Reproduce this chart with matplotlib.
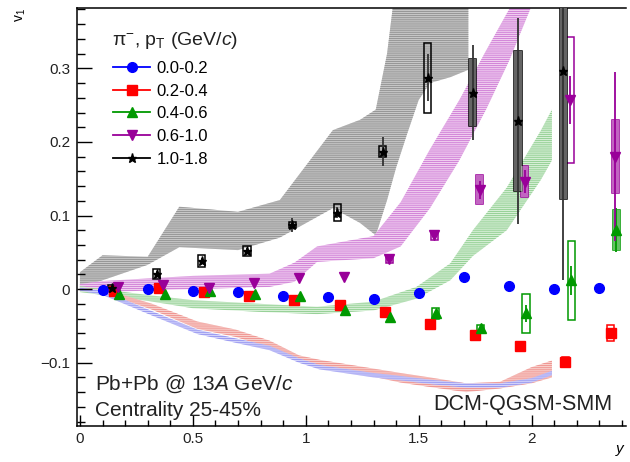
import numpy as np
import matplotlib
matplotlib.use("Agg")
import matplotlib.pyplot as plt
from matplotlib.patches import Rectangle
from matplotlib.lines import Line2D

plt.rcParams['font.family'] = ['Liberation Sans', 'DejaVu Sans']
plt.rcParams['mathtext.fontset'] = 'custom'
plt.rcParams['mathtext.rm'] = 'Liberation Sans'
plt.rcParams['mathtext.it'] = 'Liberation Sans:italic'
plt.rcParams['hatch.linewidth'] = 0.6

# ---------------- data points (pi-, v1 vs y) ----------------
labels = ["0.0-0.2", "0.2-0.4", "0.4-0.6", "0.6-1.0", "1.0-1.8"]
colors = ["#0000ff", "#ff0000", "#009900", "#990099", "#000000"]
markers = ["o", "s", "^", "v", "*"]

x_blue = [0.10, 0.30, 0.50, 0.70, 0.90, 1.10, 1.30, 1.50, 1.70, 1.90, 2.10, 2.30]
v_blue = [-0.001, 0.000, -0.002, -0.004, -0.010, -0.011, -0.014, -0.005, 0.017, 0.004, 0.000, 0.002]
stat_blue = [0.001] * 12
sys_blue = [0.0] * 12

x_red = [0.15, 0.35, 0.55, 0.75, 0.95, 1.15, 1.35, 1.55, 1.75, 1.95, 2.15, 2.35]
v_red = [-0.002, 0.001, -0.004, -0.010, -0.015, -0.022, -0.031, -0.047, -0.063, -0.077, -0.099, -0.060]
stat_red = [0.001] * 10 + [0.004, 0.005]
sys_red = [0.0] * 10 + [0.007, 0.011]

x_green = [0.175, 0.375, 0.575, 0.775, 0.975, 1.175, 1.375, 1.575, 1.775, 1.975, 2.175, 2.375]
v_green = [-0.006, -0.006, -0.003, -0.007, -0.010, -0.028, -0.038, -0.033, -0.053, -0.033, 0.012, 0.080]
stat_green = [0.001] * 8 + [0.004, 0.012, 0.020, 0.030]
sys_green = [0.0] * 7 + [0.007, 0.004, 0.026, 0.054, 0.027]

x_mag = [0.17, 0.37, 0.57, 0.77, 0.97, 1.17, 1.37, 1.57, 1.77, 1.97, 2.17, 2.37]
v_mag = [0.003, 0.005, 0.002, 0.008, 0.015, 0.016, 0.041, 0.073, 0.135, 0.146, 0.257, 0.180]
stat_mag = [0.001] * 8 + [0.012, 0.016, 0.033, 0.115]
sys_mag = [0.0] * 6 + [0.006, 0.006, 0.020, 0.021, 0.085, 0.050]

x_black = [0.14, 0.34, 0.54, 0.74, 0.94, 1.14, 1.34, 1.54, 1.74, 1.94, 2.14]
v_black = [0.002, 0.021, 0.038, 0.052, 0.087, 0.104, 0.187, 0.287, 0.267, 0.228, 0.296]
stat_black = [0.003, 0.004, 0.004, 0.004, 0.010, 0.007, 0.020, 0.032, 0.065, 0.140, 0.284]
sys_black = [0.003, 0.007, 0.008, 0.007, 0.004, 0.011, 0.007, 0.048, 0.046, 0.095, 0.174]

series = [
    (x_blue, v_blue, stat_blue, sys_blue),
    (x_red, v_red, stat_red, sys_red),
    (x_green, v_green, stat_green, sys_green),
    (x_mag, v_mag, stat_mag, sys_mag),
    (x_black, v_black, stat_black, sys_black),
]

# ---------------- model bands (DCM-QGSM-SMM) ----------------
band_gray_x = [0.0, 0.10, 0.30, 0.44, 0.70, 0.885, 1.12, 1.24, 1.31, 1.36, 1.40, 1.45, 1.50, 1.55, 1.64, 1.72]
band_gray_hi = [0.023, 0.046, 0.044, 0.112, 0.105, 0.121, 0.216, 0.230, 0.244, 0.320, 0.420, 0.450, 0.450, 0.450, 0.450, 0.450]
band_gray_lo = [0.000, 0.012, 0.033, 0.057, 0.053, 0.070, 0.110, 0.090, 0.073, 0.121, 0.165, 0.212, 0.257, 0.280, 0.288, 0.298]

band_mag_x = [0.0, 0.10, 0.50, 0.84, 0.95, 1.05, 1.30, 1.42, 1.55, 1.68, 1.80, 1.90, 2.00]
band_mag_hi = [0.007, 0.011, 0.018, 0.021, 0.036, 0.058, 0.072, 0.118, 0.190, 0.257, 0.325, 0.380, 0.440]
band_mag_lo = [-0.003, -0.004, 0.000, 0.003, 0.010, 0.037, 0.042, 0.058, 0.110, 0.175, 0.245, 0.310, 0.385]

band_green_x = [0.0, 0.15, 0.30, 0.50, 0.80, 1.05, 1.30, 1.49, 1.64, 1.74, 1.89, 2.04, 2.09]
band_green_hi = [0.004, -0.002, -0.008, -0.015, -0.020, -0.024, -0.017, 0.003, 0.035, 0.080, 0.138, 0.215, 0.244]
band_green_lo = [-0.004, -0.010, -0.016, -0.026, -0.031, -0.034, -0.029, -0.013, 0.012, 0.045, 0.080, 0.148, 0.175]

band_rb_x = [0.0, 0.10, 0.18, 0.32, 0.52, 0.69, 0.84, 0.97, 1.06, 1.30, 1.42, 1.55, 1.71, 1.86, 2.00, 2.09]
band_red_hi = [0.002, -0.001, -0.007, -0.020, -0.044, -0.055, -0.070, -0.090, -0.096, -0.108, -0.114, -0.120, -0.128, -0.126, -0.106, -0.097]
band_red_lo = [-0.002, -0.006, -0.013, -0.028, -0.054, -0.065, -0.080, -0.099, -0.106, -0.119, -0.127, -0.133, -0.140, -0.135, -0.128, -0.120]
band_blue_hi = [0.002, -0.002, -0.012, -0.030, -0.055, -0.067, -0.077, -0.094, -0.103, -0.114, -0.118, -0.123, -0.128, -0.128, -0.121, -0.111]
band_blue_lo = [-0.002, -0.008, -0.018, -0.036, -0.061, -0.073, -0.083, -0.100, -0.109, -0.120, -0.124, -0.129, -0.134, -0.134, -0.127, -0.117]

bands = [
    (band_gray_x, band_gray_lo, band_gray_hi, "#c6c6c6", "#8e8e8e"),
    (band_mag_x, band_mag_lo, band_mag_hi, "#f0cdf0", "#cc78d4"),
    (band_green_x, band_green_lo, band_green_hi, "#d6efd6", "#8ccc8c"),
    (band_rb_x, band_red_lo, band_red_hi, "#f8d0cc", "#ee8c88"),
    (band_rb_x, band_blue_lo, band_blue_hi, "#d4d4fa", "#9090f0"),
]

# boxes that look filled in the original: (series index, point index)
filled_boxes = {(2, 11), (3, 8), (3, 9), (3, 11), (4, 8), (4, 9), (4, 10)}

# ---------------- figure ----------------
fig = plt.figure(figsize=(6.3, 4.62), dpi=100)
ax = fig.add_axes([77 / 630, 1 - 426 / 462, 549 / 630, 418 / 462])
ax.set_xlim(-0.013, 2.418)
ax.set_ylim(-0.186, 0.382)

for bx, lo, hi, fc, hc in bands:
    ax.fill_between(bx, lo, hi, facecolor=fc, edgecolor=hc, hatch="--------",
                    linewidth=0, zorder=1)

box_w = 0.016
msizes = {"o": 7, "s": 6.8, "^": 7, "v": 7, "*": 6.5}
for si_, ((xs, vs, st, sy), col, mk) in enumerate(zip(series, colors, markers)):
    for pi_, (xi, vi, si) in enumerate(zip(xs, vs, sy)):
        if si > 0:
            filled = (si_, pi_) in filled_boxes
            ax.add_patch(Rectangle((xi - box_w, vi - si), 2 * box_w, 2 * si,
                                   facecolor=(col if filled else "none"),
                                   edgecolor=col, linewidth=1.1, zorder=3))
            if filled:
                ax.add_patch(Rectangle((xi - box_w, vi - si), 2 * box_w, 2 * si,
                                       facecolor="white", alpha=0.4,
                                       edgecolor="none", zorder=3.1))
    ecol = "#333333" if col == "#000000" else col
    ax.errorbar(xs, vs, yerr=st, fmt=mk, color=col, ecolor=ecol, ms=msizes[mk],
                mec=col, elinewidth=1.3, capsize=0, zorder=4)

# ---------------- axes styling ----------------
ax.set_xticks([0, 0.5, 1, 1.5, 2])
ax.set_xticklabels(["0", "0.5", "1", "1.5", "2"])
ax.set_xticks(np.arange(0, 2.45, 0.1), minor=True)
ax.set_yticks([-0.1, 0, 0.1, 0.2, 0.3])
ax.set_yticklabels(["\u22120.1", "0", "0.1", "0.2", "0.3"])
ax.set_yticks(np.arange(-0.18, 0.381, 0.02), minor=True)
ax.tick_params(axis="both", which="both", direction="in", labelsize=11,
               top=False, right=False, color="black", labelcolor="#222222")
ax.tick_params(axis="y", which="major", length=10.5, width=1.0, pad=5)
ax.tick_params(axis="y", which="minor", length=5.5, width=1.0)
ax.tick_params(axis="x", which="major", length=8, width=1.0, pad=4)
ax.tick_params(axis="x", which="minor", length=4.5, width=1.0)
ax.spines["right"].set_visible(False)
for s in ["left", "bottom", "top"]:
    ax.spines[s].set_linewidth(1.1)

ax.set_xlabel("$y$", fontsize=11, loc="right")
ax.xaxis.set_label_coords(1.0, -0.04)
ax.set_ylabel("v$_1$", fontsize=10, loc="top")
ax.yaxis.set_label_coords(-0.09, 1.0)

# ---------------- texts ----------------
ax.text(0.033, 0.086, "Pb+Pb @ 13$A$ GeV/$c$", transform=ax.transAxes,
        fontsize=15, va="baseline", ha="left", color="#222222")
ax.text(0.033, 0.024, "Centrality 25-45%", transform=ax.transAxes,
        fontsize=15, va="baseline", ha="left", color="#222222")
ax.text(0.976, 0.038, "DCM-QGSM-SMM", transform=ax.transAxes,
        fontsize=15.5, va="baseline", ha="right", color="#222222")

# ---------------- legend ----------------
ax.text(0.064, 1 - (45 - 8) / 418, "\u03c0$^{-}$, p$_{\\mathrm{T}}$ (GeV/$c$)",
        transform=ax.transAxes, fontsize=14, va="baseline", ha="left",
        color="#222222")
handles = [Line2D([], [], color=c, marker=m, ms=msizes[m], lw=1.3)
           for c, m in zip(colors, markers)]
leg = ax.legend(handles, labels, loc="upper left",
                bbox_to_anchor=(0.066, 1 - (61 - 8) / 418), frameon=False,
                fontsize=12, labelspacing=0.46,
                handlelength=2.2, handletextpad=0.4, borderpad=0,
                borderaxespad=0)

fig.savefig("out.png", dpi=100)
